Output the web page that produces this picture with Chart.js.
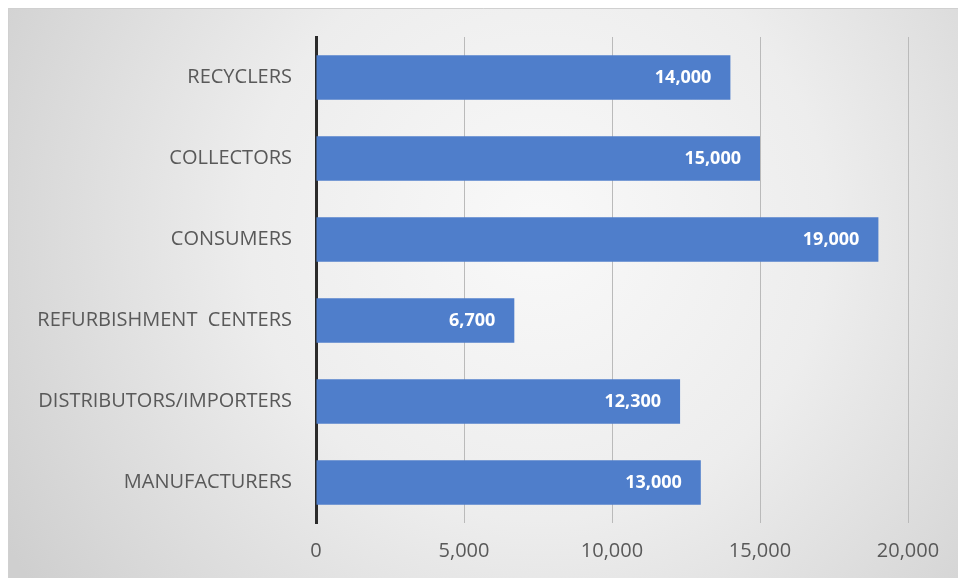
<!DOCTYPE html>
<html>
<head>
<meta charset="utf-8">
<script src="https://cdn.jsdelivr.net/npm/chart.js@4.4.1/dist/chart.umd.min.js"></script>
<style>
  html, body { margin: 0; padding: 0; background: #fff; }
  canvas { display: block; }
</style>
</head>
<body>
<canvas id="stakeChart" width="958" height="578"></canvas>
<script>
const categories = ['RECYCLERS', 'COLLECTORS', 'CONSUMERS', 'REFURBISHMENT  CENTERS', 'DISTRIBUTORS/IMPORTERS', 'MANUFACTURERS'];
const amounts = [14000, 15000, 19000, 6700, 12300, 13000];
const xTicks = [0, 5000, 10000, 15000, 20000];

const fmt = v => v.toLocaleString('en-US');
const family = '"Open Sans", Lato, sans-serif';

// grey radial backdrop inside a thin frame
const backdrop = {
  id: 'backdrop',
  beforeDraw(chart) {
    const c = chart.ctx;
    const w = chart.width, h = chart.height;
    c.save();
    c.fillStyle = '#ffffff';
    c.fillRect(0, 0, w, h);
    const g = c.createRadialGradient(540, 230, 20, 540, 230, 620);
    g.addColorStop(0, '#f8f8f8');
    g.addColorStop(0.45, '#ededed');
    g.addColorStop(1, '#cfcfcf');
    c.fillStyle = g;
    c.fillRect(8, 8, w - 8, h - 8);
    c.strokeStyle = '#d0d0d0';
    c.lineWidth = 1;
    c.beginPath();
    c.moveTo(8.5, h);
    c.lineTo(8.5, 8.5);
    c.lineTo(w, 8.5);
    c.stroke();
    c.restore();
  }
};

// value written inside the end of each bar
const endLabels = {
  id: 'endLabels',
  afterDatasetsDraw(chart) {
    const c = chart.ctx;
    const meta = chart.getDatasetMeta(0);
    c.save();
    c.font = 'bold 18px ' + family;
    c.fillStyle = '#ffffff';
    c.textAlign = 'right';
    c.textBaseline = 'middle';
    meta.data.forEach((bar, i) => {
      c.fillText(fmt(amounts[i]), bar.x - 19, bar.y);
    });
    c.restore();
  }
};

new Chart(document.getElementById('stakeChart'), {
  type: 'bar',
  data: {
    labels: categories,
    datasets: [{
      data: amounts,
      backgroundColor: '#4f7ecb',
      borderWidth: 0,
      categoryPercentage: 1,
      barPercentage: 0.55
    }]
  },
  options: {
    indexAxis: 'y',
    responsive: false,
    animation: false,
    layout: { padding: { left: 8, right: 50, top: 37, bottom: 8 } },
    plugins: {
      legend: { display: false },
      tooltip: { enabled: false }
    },
    scales: {
      x: {
        min: 0,
        max: 20000,
        afterBuildTicks(scale) {
          scale.ticks = xTicks.map(v => ({ value: v }));
        },
        afterFit(scale) { scale.height = 47; },
        grid: { color: '#bababa', lineWidth: 1, drawTicks: false },
        border: { display: false },
        ticks: {
          padding: 16,
          color: '#595959',
          font: { family: family, size: 20 },
          callback: v => fmt(v)
        }
      },
      y: {
        afterFit(scale) { scale.width = 308; },
        grid: { display: false, drawTicks: false },
        border: { display: true, color: '#2b2b2b', width: 3 },
        ticks: {
          padding: 24,
          color: '#595959',
          font: { family: family, size: 20 }
        }
      }
    }
  },
  plugins: [backdrop, endLabels]
});
</script>
</body>
</html>
